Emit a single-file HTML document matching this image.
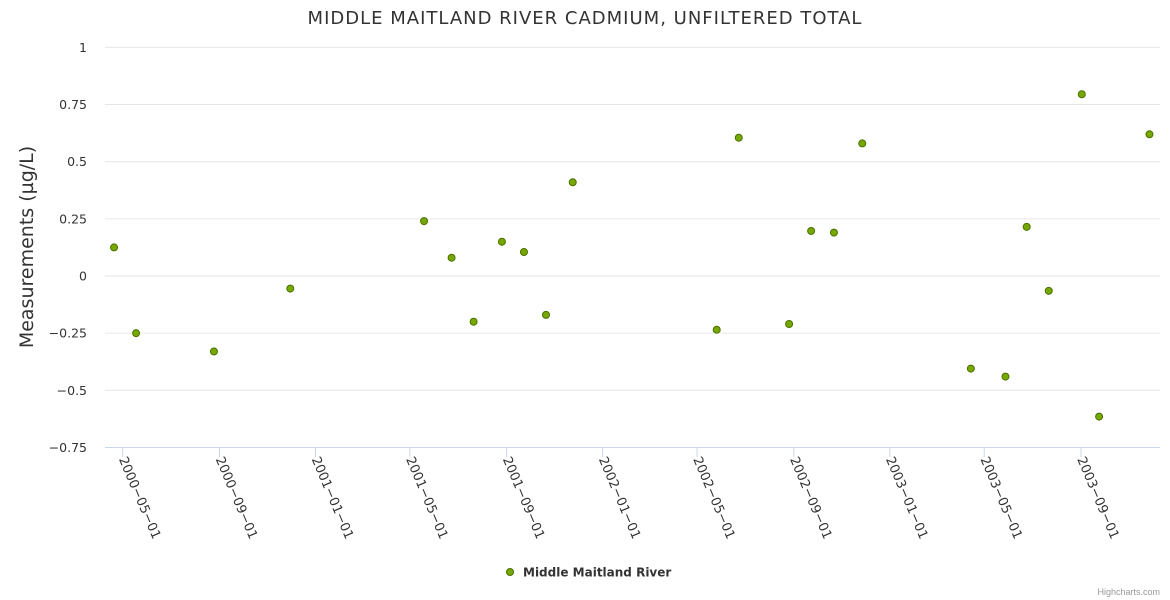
<!DOCTYPE html>
<html><head><meta charset="utf-8"><style>
html,body{margin:0;padding:0;background:#fff;}
svg{display:block;font-family:"DejaVu Sans","Liberation Sans",sans-serif;}
</style></head><body>
<svg id="chart" width="1170" height="600">
<text x="585" y="24" text-anchor="middle" font-size="18" letter-spacing="1" fill="#333">MIDDLE MAITLAND RIVER CADMIUM, UNFILTERED TOTAL</text>
<text transform="translate(33,247) rotate(-90)" text-anchor="middle" font-size="19" fill="#333">Measurements (µg/L)</text>
<g id="grid"></g><g id="xaxis"></g><g id="points"></g>
<g>
<circle cx="510" cy="572" r="3.5" fill="#77a800" stroke="#4a7000" stroke-width="1"/>
<text x="523" y="576.5" font-size="12" font-weight="bold" fill="#333">Middle Maitland River</text>
</g>
<text x="1160" y="595" text-anchor="end" font-size="9" fill="#999" font-family="Liberation Sans, sans-serif">Highcharts.com</text>
</svg>
<script>
const dates=["2000-04-20","2000-05-18","2000-08-25","2000-11-30","2001-05-19","2001-06-23","2001-07-21","2001-08-26","2001-09-23","2001-10-21","2001-11-24","2002-05-26","2002-06-23","2002-08-26","2002-09-23","2002-10-22","2002-11-27","2003-04-14","2003-05-28","2003-06-24","2003-07-22","2003-09-02","2003-09-24","2003-11-27"];
const values=[0.125,-0.25,-0.33,-0.055,0.24,0.08,-0.2,0.15,0.105,-0.17,0.41,-0.235,0.605,-0.21,0.197,0.19,0.58,-0.405,-0.44,0.215,-0.065,0.795,-0.615,0.62];
const yTicks=[1,0.75,0.5,0.25,0,-0.25,-0.5,-0.75];
const xTicks=["2000-05-01","2000-09-01","2001-01-01","2001-05-01","2001-09-01","2002-01-01","2002-05-01","2002-09-01","2003-01-01","2003-05-01","2003-09-01"];
const NS="http://www.w3.org/2000/svg";
const ms=s=>Date.parse(s+"T00:00:00Z");
const x0=ms("2000-05-01"),x1=ms("2003-09-01");
const X=d=>122.7+(ms(d)-x0)/(x1-x0)*(1081-122.7);
const Y=v=>276-v*228.6;
function mk(tag,attrs,parent){const e=document.createElementNS(NS,tag);for(const k in attrs)e.setAttribute(k,attrs[k]);parent.appendChild(e);return e;}
const grid=document.getElementById('grid');
yTicks.forEach(v=>{
  const l=mk('line',{x1:105,x2:1160,y1:Y(v),y2:Y(v),stroke:v===-0.75?'#ccd6eb':'#e6e6e6','stroke-width':1},grid);
  
  
  const t=mk('text',{x:87,y:Y(v)+4.5,'text-anchor':'end','font-size':12.5,fill:'#333'},grid);
  t.textContent=String(v).replace('-','\u2212');
  
  
});
const xa=document.getElementById('xaxis');
xTicks.forEach(d=>{
  const x=X(d);
  const l=mk('line',{x1:x,x2:x,y1:447,y2:457,stroke:'#ccd6eb','stroke-width':1},xa);
  
  
  const t=mk('text',{transform:`translate(${x-4},${459}) rotate(67)`,'font-size':13,fill:'#333'},xa);
  t.textContent=d.replace(/-/g,'\u2212');
  
  
});
const pg=document.getElementById('points');
dates.forEach((d,i)=>{
  const c=mk('circle',{cx:X(d),cy:Y(values[i]),r:3.5,fill:'#77a800',stroke:'#4a7000','stroke-width':1},pg);
  
  
});
</script>
</body></html>
